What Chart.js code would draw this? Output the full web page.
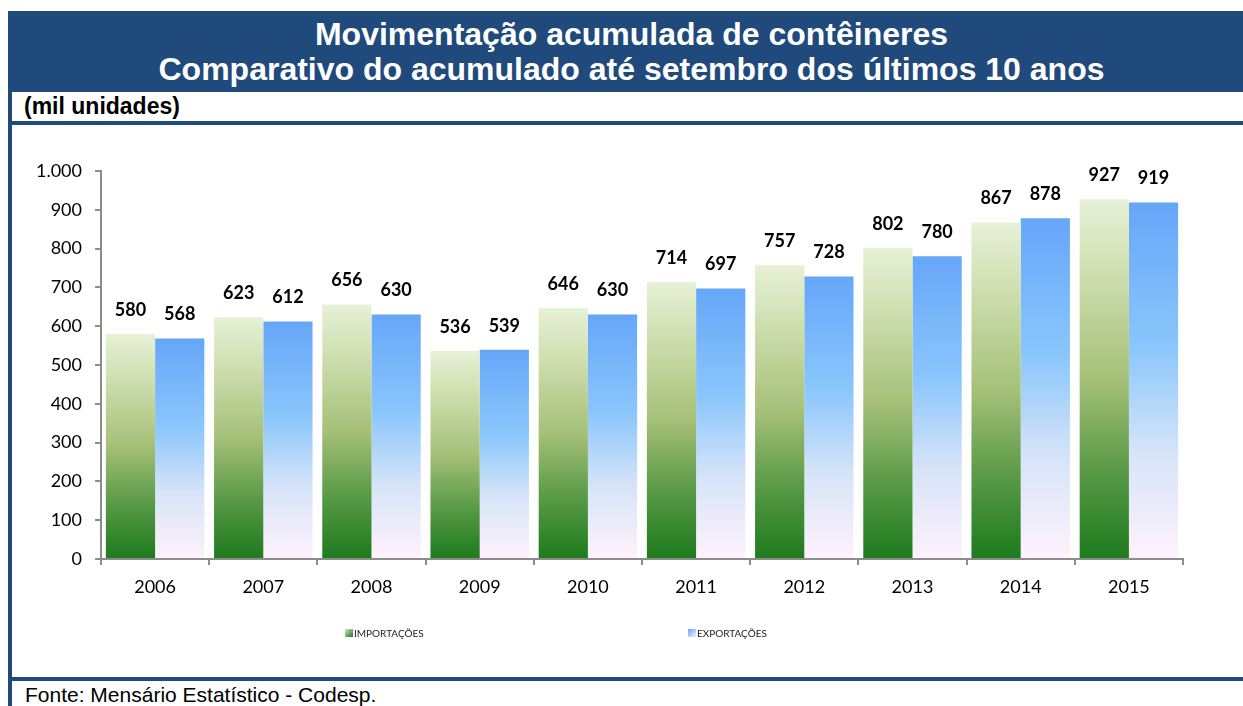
<!DOCTYPE html>
<html lang="pt">
<head>
  <meta charset="UTF-8" />
  <title>Movimentação acumulada de contêineres</title>
  <script src="https://cdn.jsdelivr.net/npm/chart.js"></script>
  <style>
    body {
      margin: 0;
      width: 1243px;
      height: 706px;
      background: #fff;
      position: relative;
      overflow: hidden;
      font-family: "Liberation Sans", Arial, sans-serif;
    }
    /* navy frame pieces */
    .header {
      position: absolute;
      left: 8px; top: 11px; right: 0; height: 81px;
      background: #204a7c;
      color: #fff;
      font-weight: bold;
      font-size: 32px;
      text-align: center;
      line-height: 35px;
      padding-top: 6px;
      padding-left: 12px;
      box-sizing: border-box;
    }
    .leftbar { position: absolute; left: 8px; top: 11px; width: 4px; height: 695px; background: #204a7c; }
    .rule1 { position: absolute; left: 8px; right: 0; top: 121px; height: 4px; background: #204a7c; }
    .rule2 { position: absolute; left: 8px; right: 0; top: 677px; height: 4px; background: #204a7c; }
    .unit {
      position: absolute; left: 24px; top: 93px;
      font-weight: bold; font-size: 23px;
    }
    .source {
      position: absolute; left: 25px; top: 683px;
      font-size: 21px;
    }
    #wrap { position: absolute; left: 12px; top: 125px; width: 1231px; height: 552px; }
    .legend {
      position: absolute; top: 627px;
      font-family: Lato, sans-serif; font-size: 10px; color: #222;
      display: flex; align-items: center;
    }
    .legend i { display: inline-block; width: 8px; height: 8px; margin-right: 1px; }
  </style>
</head>
<body>
  <div class="leftbar"></div>
  <div class="header">Movimentação acumulada de contêineres<br>Comparativo do acumulado até setembro dos últimos 10 anos</div>
  <div class="unit">(mil unidades)</div>
  <div class="rule1"></div>
  <div id="wrap"><canvas id="chart"></canvas></div>
  <div class="legend" style="left:345px"><i style="background:linear-gradient(135deg,#d6e8bf,#1d7a1d)"></i>IMPORTAÇÕES</div>
  <div class="legend" style="left:688px"><i style="background:linear-gradient(135deg,#66a6f8,#f2f0fc)"></i>EXPORTAÇÕES</div>
  <div class="rule2"></div>
  <div class="source">Fonte: Mensário Estatístico - Codesp.</div>

  <script>
    const years = ["2006", "2007", "2008", "2009", "2010", "2011", "2012", "2013", "2014", "2015"];
    const importacoes = [580, 623, 656, 536, 646, 714, 757, 802, 867, 927];
    const exportacoes = [568, 612, 630, 539, 630, 697, 728, 780, 878, 919];
    const yTicks = [0, 100, 200, 300, 400, 500, 600, 700, 800, 900, 1000];

    const fmt = v => v.toLocaleString("de-DE");

    // gradient for each bar, from its own top down to the baseline
    function barGradient(stops) {
      return ctx => {
        const chart = ctx.chart;
        if (!chart.chartArea || ctx.raw == null) return stops[0][1];
        const y = chart.scales.y;
        const top = y.getPixelForValue(ctx.raw);
        const base = y.getPixelForValue(0);
        const g = chart.ctx.createLinearGradient(0, top, 0, base);
        stops.forEach(s => g.addColorStop(s[0], s[1]));
        return g;
      };
    }
    const greenStops = [[0, "#e6f1d6"], [0.2, "#cfdfb0"], [0.5, "#a5c078"], [0.75, "#5a9a48"], [1, "#1d7a1d"]];
    const blueStops = [[0, "#66a6f8"], [0.4, "#8ac6fc"], [0.7, "#d6e4f8"], [1, "#fff2fc"]];

    const valueLabels = {
      id: "valueLabels",
      afterDatasetsDraw(chart) {
        const c = chart.ctx;
        c.save();
        c.font = "bold 18px Lato, sans-serif";
        c.fillStyle = "#000";
        c.textAlign = "center";
        c.textBaseline = "middle";
        chart.data.datasets.forEach((ds, i) => {
          chart.getDatasetMeta(i).data.forEach((bar, j) => {
            c.fillText(fmt(ds.data[j]), bar.x, bar.y - 24);
          });
        });
        c.restore();
      }
    };

    new Chart(document.getElementById("chart"), {
      type: "bar",
      data: {
        labels: years,
        datasets: [
          { label: "IMPORTAÇÕES", data: importacoes, backgroundColor: barGradient(greenStops) },
          { label: "EXPORTAÇÕES", data: exportacoes, backgroundColor: barGradient(blueStops) }
        ]
      },
      options: {
        responsive: true,
        maintainAspectRatio: false,
        animation: false,
        categoryPercentage: 0.91,
        barPercentage: 1,
        layout: { padding: { top: 46, right: 60, bottom: 78, left: 0 } },
        plugins: { legend: { display: false }, tooltip: { enabled: false } },
        scales: {
          x: {
            grid: { offset: true, drawOnChartArea: false, tickLength: 6, color: "#8c8c8c", lineWidth: 2 },
            border: { color: "#8c8c8c", width: 2 },
            ticks: { color: "#000", font: { family: "Lato", size: 18 }, padding: 11 },
            afterFit: s => { s.height = 40; }
          },
          y: {
            min: 0,
            max: 1000,
            afterBuildTicks: s => { s.ticks = yTicks.map(v => ({ value: v })); },
            grid: { drawOnChartArea: false, tickLength: 6, color: "#8c8c8c", lineWidth: 2 },
            border: { color: "#8c8c8c", width: 2 },
            ticks: { color: "#000", font: { family: "Lato", size: 18 }, padding: 13, callback: v => fmt(v) },
            afterFit: s => { s.width = 89; }
          }
        }
      },
      plugins: [valueLabels]
    });
  </script>
</body>
</html>
